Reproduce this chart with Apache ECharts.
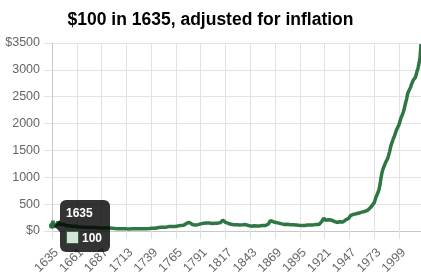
<!DOCTYPE html>
<html>
<head>
<meta charset="utf-8">
<script src="https://cdn.jsdelivr.net/npm/echarts@6/dist/echarts.min.js"></script>
<style>
html,body{margin:0;padding:0;background:#fff;}
#chart{width:421px;height:280px;}
</style>
</head>
<body>
<div id="chart"></div>
<script>
const titleText = '$100 in 1635, adjusted for inflation';
const startYear = 1635;
// Values, by century
const values1600s = [
  100,190,60,140,95,
  120,165,180,150,120,135,110,125,105,115,
  100,108,95,100,92,96,88,90,85,88,
  82,84,80,78,80,76,74,75,72,73,
  70,68,70,67,66,68,65,63,64,62,
  63,60,61,59,60,58,57,58,56,57,
  55,56,54,55,53,54,52,50,51,49
];
const values1700s = [
  48,47,45,46,44,45,43,44,42,45,
  43,41,42,40,42,41,39,40,42,40,
  39,41,40,38,40,42,41,39,40,42,
  41,40,42,44,43,45,44,46,48,50,
  52,60,55,50,52,57,62,66,70,72,
  68,70,72,71,70,72,75,82,86,88,
  85,83,90,88,84,86,90,92,94,98,
  104,108,112,106,108,115,140,165,175,160,
  150,128,122,118,115,113,116,120,118,122,
  128,132,135,138,145,150,152,148,145,148
];
const values1800s = [
  150,146,138,140,142,140,145,138,150,146,
  145,155,158,190,205,185,168,160,152,150,
  140,133,136,125,118,120,118,119,116,115,
  113,110,111,108,110,115,121,124,120,122,
  110,103,97,90,90,92,93,99,95,93,
  94,92,94,95,103,106,104,107,101,103,
  107,112,130,160,195,190,183,173,168,163,
  157,152,150,147,142,137,133,128,123,122,
  124,124,125,123,120,117,115,115,116,114,
  112,112,111,110,106,103,102,101,101,102
];
const values1900s = [
  104,106,108,111,112,111,113,117,115,114,
  118,118,120,118,119,120,130,152,180,206,
  238,213,200,203,203,208,210,207,203,203,
  199,181,163,155,159,163,165,171,168,165,
  166,175,194,206,209,214,232,265,287,283,
  287,309,315,317,320,319,323,334,344,346,
  352,356,359,364,369,375,385,397,414,436,
  461,482,497,528,586,640,677,721,775,863,
  980,1081,1147,1184,1235,1279,1303,1351,1407,1474,
  1554,1619,1668,1718,1762,1812,1866,1908,1938,1981
];
const values2000s = [
  2047,2106,2139,2188,2246,2322,2397,2465,2560,2550,
  2593,2674,2730,2770,2814,2818,2854,2914,2986,3040,
  3077,3222,3480
];
const yTicks = [0,500,1000,1500,2000,2500,3000,3500];

const values = [].concat(values1600s, values1700s, values1800s, values1900s, values2000s);
const years = values.map((v, i) => String(startYear + i));

const FONT = "'Liberation Sans', Arial, Helvetica, sans-serif";
const GREEN = '#2a6d3c';

const chart = echarts.init(document.getElementById('chart'), null, {renderer: 'canvas'});
chart.setOption({
  animation: false,
  backgroundColor: '#fff',
  title: {
    text: titleText,
    left: 'center',
    top: 6,
    textStyle: {fontFamily: FONT, fontSize: 17.5, fontWeight: 'bold', color: '#000'}
  },
  grid: {left: 52, right: 0, top: 43, bottom: 49, containLabel: false},
  xAxis: {
    type: 'category',
    data: years,
    boundaryGap: false,
    axisLine: {show: true, lineStyle: {color: '#c8c8c8', width: 1}},
    axisTick: {show: true, interval: 25, length: 8, lineStyle: {color: '#e2e2e2'}},
    splitLine: {show: true, interval: 25, lineStyle: {color: '#e2e2e2'}},
    axisLabel: {interval: 25, rotate: 45, margin: 15, verticalAlign: 'top', color: '#666', fontSize: 12.5, fontFamily: FONT}
  },
  yAxis: {
    type: 'value',
    min: yTicks[0],
    max: yTicks[yTicks.length - 1],
    interval: 500,
    axisLine: {show: true, lineStyle: {color: '#c8c8c8', width: 1}},
    axisTick: {show: true, length: 8, lineStyle: {color: '#e2e2e2'}},
    splitLine: {show: true, lineStyle: {color: '#e2e2e2'}},
    axisLabel: {
      margin: 12, color: '#666', fontSize: 12.5, fontFamily: FONT,
      formatter: function (v) {
        return (v === yTicks[0] || v === yTicks[yTicks.length - 1]) ? '$' + v : String(v);
      }
    }
  },
  tooltip: {
    trigger: 'axis',
    triggerOn: 'none',
    alwaysShowContent: true,
    axisPointer: {type: 'none'},
    transitionDuration: 0,
    backgroundColor: 'rgba(0,0,0,0.8)',
    borderWidth: 0,
    borderRadius: 6,
    padding: [6, 8, 6, 6],
    extraCssText: 'box-shadow:none;',
    textStyle: {color: '#fff', fontSize: 12, fontFamily: FONT, fontWeight: 'bold'},
    position: function (point, params, dom, rect, size) {
      return [point[0] + 8, point[1] - size.contentSize[1] / 2];
    },
    formatter: function (params) {
      const p = params[0];
      return '<div style="position:absolute;left:-6px;top:50%;margin-top:-6px;width:0;height:0;' +
        'border-top:6px solid transparent;border-bottom:6px solid transparent;border-right:6px solid rgba(0,0,0,0.8);"></div>' +
        '<div style="line-height:14px;margin-bottom:10px;font-weight:bold;">' + p.axisValue + '</div>' +
        '<div style="line-height:16px;height:16px;font-weight:bold;white-space:nowrap;">' +
        '<span style="display:inline-block;width:11px;height:11px;background:#d5e3d8;border:1px solid ' + GREEN +
        ';vertical-align:-2px;margin-right:3px;"></span>' + p.value + '</div>';
    }
  },
  series: [{
    type: 'line',
    data: values,
    showSymbol: false,
    symbol: 'circle',
    symbolSize: 4,
    smooth: false,
    lineStyle: {color: GREEN, width: 3.5},
    itemStyle: {color: GREEN}
  }]
});
chart.dispatchAction({type: 'showTip', seriesIndex: 0, dataIndex: 0});
</script>
</body>
</html>
